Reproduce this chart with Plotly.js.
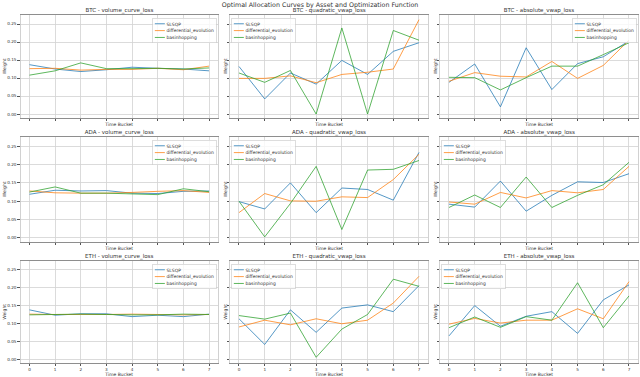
<!DOCTYPE html>
<html>
<head>
<meta charset="utf-8">
<script src="https://cdn.plot.ly/plotly-3.0.1.min.js"></script>
<style>
  html, body { margin: 0; padding: 0; background: #fff; }
  #wrap { width: 640px; height: 377px; overflow: hidden; }
  /* drawn at 3x and scaled down, like the large matplotlib figure this came from */
  #chart { width: 1920px; height: 1131px; transform: scale(0.333333); transform-origin: 0 0; }
</style>
</head>
<body>
<div id="wrap"><div id="chart"></div></div>
<script>
const buckets = [0, 1, 2, 3, 4, 5, 6, 7];
const methods = ['SLSQP', 'differential_evolution', 'basinhopping'];
const assets = ['BTC', 'ADA', 'ETH'];
const lossFns = ['volume_curve_loss', 'quadratic_vwap_loss', 'absolute_vwap_loss'];
const yTicks = [0, 0.05, 0.10, 0.15, 0.20, 0.25];

// one row per method: SLSQP, differential_evolution, basinhopping
const btcVolume = [
  [0.137, 0.125, 0.118, 0.123, 0.130, 0.127, 0.125, 0.120],
  [0.126, 0.127, 0.122, 0.124, 0.124, 0.127, 0.123, 0.133],
  [0.108, 0.120, 0.142, 0.126, 0.126, 0.127, 0.125, 0.128],
];
const btcQuadratic = [
  [0.132, 0.042, 0.114, 0.083, 0.149, 0.110, 0.174, 0.198],
  [0.099, 0.099, 0.106, 0.087, 0.110, 0.116, 0.125, 0.262],
  [0.114, 0.088, 0.121, 0.000, 0.239, 0.000, 0.232, 0.205],
];
const btcAbsolute = [
  [0.088, 0.139, 0.020, 0.184, 0.068, 0.140, 0.159, 0.203],
  [0.091, 0.115, 0.105, 0.103, 0.146, 0.099, 0.135, 0.205],
  [0.102, 0.101, 0.067, 0.101, 0.133, 0.133, 0.165, 0.198],
];
const adaVolume = [
  [0.119, 0.130, 0.128, 0.129, 0.122, 0.121, 0.127, 0.128],
  [0.128, 0.123, 0.122, 0.122, 0.124, 0.127, 0.129, 0.124],
  [0.125, 0.139, 0.122, 0.122, 0.120, 0.118, 0.134, 0.126],
];
const adaQuadratic = [
  [0.099, 0.079, 0.150, 0.069, 0.136, 0.132, 0.103, 0.233],
  [0.069, 0.121, 0.101, 0.100, 0.112, 0.110, 0.159, 0.228],
  [0.100, 0.003, 0.094, 0.195, 0.023, 0.185, 0.187, 0.211],
];
const adaAbsolute = [
  [0.092, 0.084, 0.155, 0.073, 0.116, 0.153, 0.151, 0.175],
  [0.098, 0.092, 0.124, 0.109, 0.129, 0.123, 0.132, 0.195],
  [0.083, 0.117, 0.083, 0.166, 0.083, 0.116, 0.145, 0.206],
];
const ethVolume = [
  [0.138, 0.123, 0.127, 0.127, 0.119, 0.123, 0.119, 0.126],
  [0.126, 0.125, 0.125, 0.125, 0.126, 0.125, 0.124, 0.125],
  [0.124, 0.125, 0.126, 0.125, 0.124, 0.124, 0.126, 0.125],
];
const ethQuadratic = [
  [0.113, 0.041, 0.138, 0.075, 0.143, 0.152, 0.133, 0.206],
  [0.090, 0.109, 0.096, 0.113, 0.099, 0.109, 0.157, 0.232],
  [0.122, 0.112, 0.129, 0.005, 0.084, 0.125, 0.224, 0.204],
];
const ethAbsolute = [
  [0.065, 0.150, 0.092, 0.120, 0.133, 0.072, 0.166, 0.208],
  [0.098, 0.114, 0.101, 0.109, 0.109, 0.141, 0.113, 0.217],
  [0.088, 0.118, 0.089, 0.119, 0.109, 0.214, 0.088, 0.177],
];

const panels = [
  btcVolume, btcQuadratic, btcAbsolute,
  adaVolume, adaQuadratic, adaAbsolute,
  ethVolume, ethQuadratic, ethAbsolute,
];

// layout (display pixels of the 640x377 picture)
const W = 640, H = 377;
const colPx = [[20.5, 218], [230, 428], [440, 638]];
const rowPx = [[15, 118], [137, 242], [261, 363]];
const legendSide = ['right', 'left', 'right', 'right', 'left', 'left', 'right', 'left', 'left'];
const colors = ['#1f77b4', '#ff7f0e', '#2ca02c'];
const FONT = "'DejaVu Sans', sans-serif";
const TXT = '#333333';

const px2x = px => px / W;
const px2y = px => 1 - px / H;

const traces = [];
const layout = {
  width: 1920,
  height: 1131,
  margin: { l: 0, r: 0, t: 0, b: 0 },
  paper_bgcolor: '#fff',
  plot_bgcolor: '#fff',
  font: { family: FONT, color: TXT, size: 13 },
  showlegend: true,
  annotations: [],
};

layout.annotations.push({
  text: 'Optimal Allocation Curves by Asset and Optimization Function',
  xref: 'paper', yref: 'paper', x: 0.5, y: px2y(5), xanchor: 'center', yanchor: 'middle',
  showarrow: false, font: { size: 19, family: FONT, color: TXT },
});

panels.forEach((panel, p) => {
  const r = Math.floor(p / 3), c = p % 3;
  const n = p + 1;
  const sfx = n === 1 ? '' : String(n);
  const [x0, x1] = colPx[c];
  const [top, bottom] = rowPx[r];

  panel.forEach((vals, m) => {
    traces.push({
      type: 'scatter',
      mode: 'lines',
      x: buckets,
      y: vals,
      name: methods[m],
      xaxis: 'x' + sfx,
      yaxis: 'y' + sfx,
      legend: 'legend' + sfx,
      line: { color: colors[m], width: 2.7 },
      opacity: 0.85,
      hoverinfo: 'skip',
    });
  });

  layout['xaxis' + sfx] = {
    domain: [px2x(x0), px2x(x1)],
    anchor: 'y' + sfx,
    range: [-0.35, 7.35],
    tickvals: buckets,
    showticklabels: r === 2,
    ticks: 'outside', ticklen: 7, tickwidth: 2.5, tickcolor: '#333',
    tickfont: { size: 12.5, family: FONT, color: TXT },
    showgrid: true, gridcolor: '#d4d4d4', gridwidth: 2.5,
    zeroline: false,
    showline: true, mirror: true, linecolor: '#777', linewidth: 2.5,
  };
  layout['yaxis' + sfx] = {
    domain: [px2y(bottom), px2y(top)],
    anchor: 'x' + sfx,
    range: [-0.011, 0.275],
    tickvals: yTicks,
    tickformat: '.2f',
    showticklabels: c === 0,
    ticks: 'outside', ticklen: 7, tickwidth: 2.5, tickcolor: '#333',
    tickfont: { size: 12.5, family: FONT, color: TXT },
    showgrid: true, gridcolor: '#d4d4d4', gridwidth: 2.5,
    zeroline: false,
    showline: true, mirror: true, linecolor: '#c8c8c8', linewidth: 2.5,
  };

  const right = legendSide[p] === 'right';
  layout['legend' + sfx] = {
    x: right ? px2x(x1 - 1.5) : px2x(x0 + 1.5),
    xanchor: right ? 'right' : 'left',
    y: px2y(top + 3),
    yanchor: 'top',
    bgcolor: 'rgba(255,255,255,0.8)',
    bordercolor: '#cccccc',
    borderwidth: 2,
    font: { size: 13.5, family: FONT, color: TXT },
    tracegroupgap: 0,
  };

  const cx = (x0 + x1) / 2;
  layout.annotations.push({
    text: assets[r] + ' - ' + lossFns[c],
    xref: 'paper', yref: 'paper', x: px2x(cx), y: px2y(top - 4.5),
    xanchor: 'center', yanchor: 'middle', showarrow: false,
    font: { size: 16.5, family: FONT, color: TXT },
  });
  layout.annotations.push({
    text: 'Time Bucket',
    xref: 'paper', yref: 'paper', x: px2x(cx), y: px2y(bottom + (r === 2 ? 11 : 6)),
    xanchor: 'center', yanchor: 'middle', showarrow: false,
    font: { size: 13.5, family: FONT, color: TXT },
  });
  layout.annotations.push({
    text: 'Weight',
    xref: 'paper', yref: 'paper', x: px2x(x0 - (c === 0 ? 16.5 : 5)), y: px2y((top + bottom) / 2),
    xanchor: 'center', yanchor: 'middle', textangle: -90, showarrow: false,
    font: { size: 13.5, family: FONT, color: TXT },
  });
});

Plotly.newPlot('chart', traces, layout, { staticPlot: true, displayModeBar: false });
</script>
</body>
</html>
